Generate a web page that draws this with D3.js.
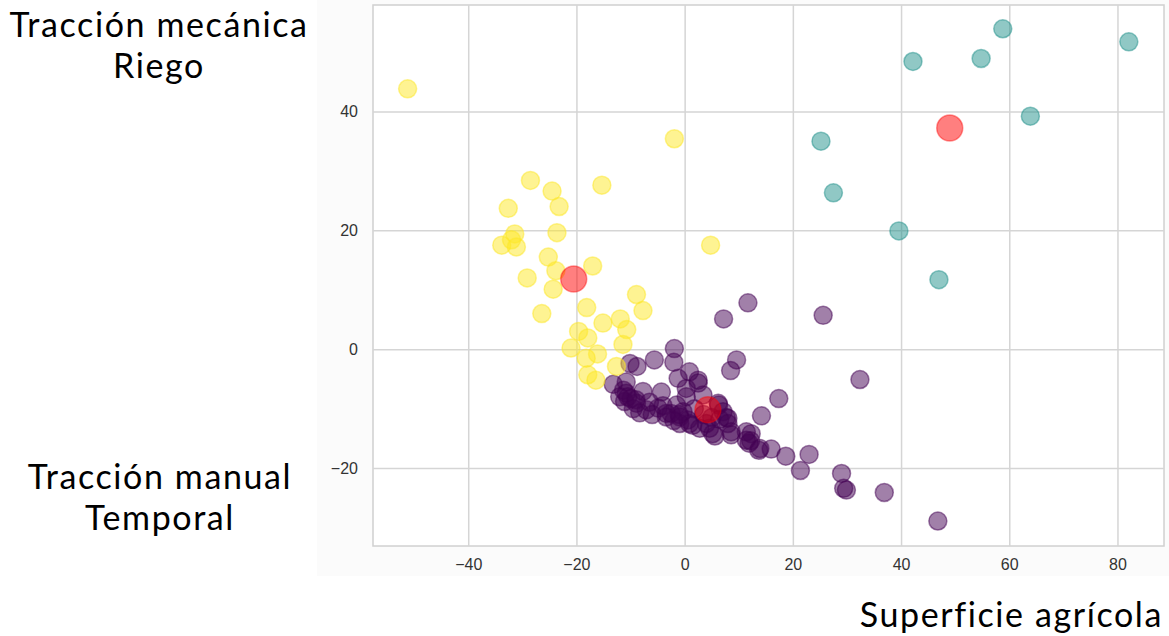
<!DOCTYPE html>
<html>
<head>
<meta charset="utf-8">
<script src="https://cdn.jsdelivr.net/npm/d3@7"></script>
<style>
  body { margin: 0; background: #fff; }
  svg { display: block; }
  .tick text { font-family: "Liberation Sans", Arial, sans-serif; font-size: 16px; fill: #333; }
  .title { font-family: Lato, "Noto Sans", sans-serif; font-size: 34px; fill: #000; letter-spacing: 1.6px; }
</style>
</head>
<body>
<svg id="chart" width="1169" height="636"></svg>
<script>
// cluster 0: purple (Tracción manual / Temporal)
const purpleX = [11.7, 7.2, 25.6, 9.6, 8.5, 32.4, 17.4, 14.2, 12.3, 11.9, 12.2, 13.7, 16.0, 18.7, 23.0, 21.4, 29.0, 29.4, 29.9, 36.9, 46.8,
  8.6, 5.6, 7.7, 6.3, 2.5, 0.9, -1.9, -2.0, -5.6, -10.1, -8.8, -1.2, 0.3, 0.3, -13.2, -10.8, -11.3, -10.8, -7.7, -4.3, -11.1, -9.9, -8.9,
  -6.5, -4.9, -7.1, -3.4, -1.5, -0.9, -2.5, -0.3, 0.6, 0.9, 2.8, 4.6, 5.2, 3.4, 6.2, 7.1, 8.0, 8.0, 8.6, 11.4, 11.4, 13.9, -3.4, -0.9,
  2.5, -8.3, -12.0, -9.5, -6.0, -2.0, 1.5, 3.5, 5.0, 1.8, -10.5, -9.0, -4.0, -1.0, 4.0, 6.5];
const purpleY = [7.8, 5.1, 5.7, -1.8, -3.6, -5.1, -8.3, -11.2, -14.2, -15.8, -15.4, -17.0, -16.8, -18.0, -17.7, -20.4, -20.9, -23.4, -23.7, -24.1, -28.9,
  -14.4, -14.6, -11.5, -9.4, -5.2, -3.8, 0.1, -2.2, -1.8, -2.4, -2.9, -4.9, -6.6, -8.0, -5.9, -5.5, -6.9, -7.4, -7.1, -7.2, -8.8, -8.3, -9.1,
  -8.9, -9.9, -10.2, -10.8, -9.4, -11.4, -10.8, -10.5, -11.9, -12.5, -13.3, -13.3, -14.2, -7.7, -9.1, -10.5, -11.6, -12.5, -13.9, -13.9, -15.3, -16.7, -11.4, -12.5,
  -5.7, -10.7, -8.0, -10.0, -11.0, -12.0, -12.8, -11.0, -11.5, -10.0, -8.0, -8.5, -9.5, -11.0, -12.5, -11.8];

// cluster 1: teal (Tracción mecánica / Riego)
const tealX = [42.2, 54.8, 58.8, 82.1, 63.9, 25.2, 27.5, 39.6, 47.0];
const tealY = [48.4, 48.9, 53.9, 51.7, 39.2, 35.0, 26.3, 19.9, 11.7];

// cluster 2: yellow
const yellowX = [-51.2, -1.9, -28.5, -24.5, -15.3, -23.2, -32.6, -23.6, 4.8, -31.4, -33.8, -31.1, -32.0, -25.2, -17.0, -23.8, -29.1,
  -24.3, -26.4, -18.1, -8.9, -7.7, -15.1, -11.9, -10.7, -19.6, -17.9, -11.4, -21.0, -16.1, -18.2, -12.6, -17.9, -16.4];
const yellowY = [43.8, 35.4, 28.4, 26.6, 27.6, 24.0, 23.7, 19.6, 17.5, 19.4, 17.5, 17.2, 18.4, 15.5, 14.0, 13.2, 12.0,
  10.1, 6.0, 7.0, 9.2, 6.5, 4.4, 5.1, 3.3, 3.0, 1.9, 0.8, 0.2, -0.8, -1.5, -2.9, -4.3, -5.2];

// centroids
const centerX = [4.3, 49.0, -20.5];
const centerY = [-10.2, 37.2, 11.8];

const xTicks = [-40, -20, 0, 20, 40, 60, 80];
const yTicks = [-20, 0, 20, 40];

const svg = d3.select("#chart");

// faint background of the embedded plot image
svg.append("rect")
  .attr("x", 317).attr("y", 0)
  .attr("width", 852).attr("height", 576)
  .attr("fill", "#fbfbfb");

const plot = {left: 373, right: 1164, top: 5, bottom: 546};

const x = d3.scaleLinear().domain([-57.6, 88.6]).range([plot.left, plot.right]);
const y = d3.scaleLinear().domain([-33.1, 57.9]).range([plot.bottom, plot.top]);

svg.append("rect")
  .attr("x", plot.left).attr("y", plot.top)
  .attr("width", plot.right - plot.left).attr("height", plot.bottom - plot.top)
  .attr("fill", "#fff")
  .attr("stroke", "#d0d0d0")
  .attr("stroke-width", 1.5);

// gridlines
svg.append("g")
  .attr("transform", `translate(0,${plot.bottom})`)
  .call(d3.axisBottom(x).tickValues(xTicks).tickSize(-(plot.bottom - plot.top)).tickFormat(""))
  .call(g => g.select(".domain").remove())
  .call(g => g.selectAll("line").attr("stroke", "#d5d5d5").attr("stroke-width", 1.5));
svg.append("g")
  .attr("transform", `translate(${plot.left},0)`)
  .call(d3.axisLeft(y).tickValues(yTicks).tickSize(-(plot.right - plot.left)).tickFormat(""))
  .call(g => g.select(".domain").remove())
  .call(g => g.selectAll("line").attr("stroke", "#d5d5d5").attr("stroke-width", 1.5));

// tick labels
svg.append("g")
  .attr("transform", `translate(0,${plot.bottom})`)
  .call(d3.axisBottom(x).tickValues(xTicks).tickSize(0).tickPadding(13))
  .call(g => g.select(".domain").remove());
svg.append("g")
  .attr("transform", `translate(${plot.left},0)`)
  .call(d3.axisLeft(y).tickValues(yTicks).tickSize(0).tickPadding(15))
  .call(g => g.select(".domain").remove());

function drawPoints(xs, ys, color, r) {
  svg.append("g")
    .selectAll("circle")
    .data(xs.map((v, i) => [v, ys[i]]))
    .join("circle")
    .attr("cx", d => x(d[0]))
    .attr("cy", d => y(d[1]))
    .attr("r", r)
    .attr("fill", color)
    .attr("fill-opacity", 0.5)
    .attr("stroke", color)
    .attr("stroke-opacity", 0.5)
    .attr("stroke-width", 1.5);
}

drawPoints(purpleX, purpleY, "#440154", 9);
drawPoints(tealX, tealY, "#21918c", 9);
drawPoints(yellowX, yellowY, "#fde725", 9);

svg.append("g")
  .selectAll("circle")
  .data(centerX.map((v, i) => [v, centerY[i]]))
  .join("circle")
  .attr("cx", d => x(d[0]))
  .attr("cy", d => y(d[1]))
  .attr("r", 13)
  .attr("fill", "#ff0000")
  .attr("fill-opacity", 0.5)
  .attr("stroke", "#ff0000")
  .attr("stroke-opacity", 0.4)
  .attr("stroke-width", 1.5);

// labels
const labels = [
  {text: "Tracción mecánica", x: 159, y: 37, anchor: "middle"},
  {text: "Riego", x: 159, y: 78, anchor: "middle"},
  {text: "Tracción manual", x: 160, y: 489, anchor: "middle"},
  {text: "Temporal", x: 160, y: 530, anchor: "middle"},
  {text: "Superficie agrícola", x: 1163, y: 627, anchor: "end"}
];
svg.append("g")
  .selectAll("text")
  .data(labels)
  .join("text")
  .attr("class", "title")
  .attr("x", d => d.x)
  .attr("y", d => d.y)
  .attr("text-anchor", d => d.anchor)
  .text(d => d.text);
</script>
</body>
</html>
